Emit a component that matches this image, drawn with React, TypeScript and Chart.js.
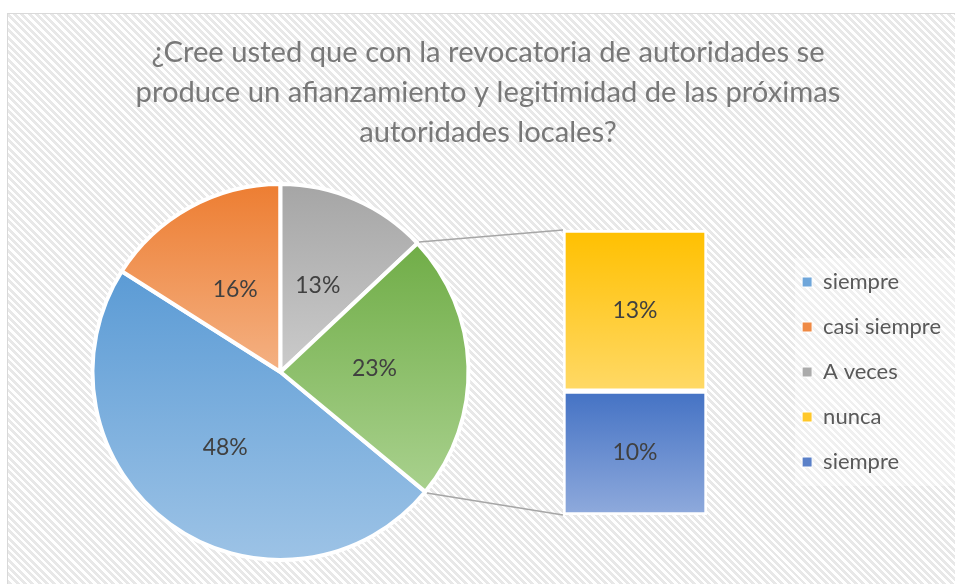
import { useEffect, useRef } from "react";
import { Chart, registerables } from "chart.js";

Chart.register(...registerables);

// ---- data ----
const titleLines = [
  "¿Cree usted que con la revocatoria de autoridades se",
  "produce un afianzamiento y legitimidad de las próximas",
  "autoridades locales?",
];
const pieLabels = ["siempre", "casi siempre", "A veces"];
const pieValues = [48, 16, 13];
const barLabels = ["nunca", "siempre"]; // top to bottom in the secondary bar
const barValues = [13, 10];
const otherLabel = "Otros";

// ---- styles ----
const pieColors = [
  ["#5b9bd5", "#9dc3e6"],
  ["#ed7d31", "#f4b183"],
  ["#a5a5a5", "#cbcbcb"],
  ["#70ad47", "#a9d18e"],
];
const barColors = [
  ["#ffc000", "#ffd966"],
  ["#4472c4", "#8faadc"],
];
const legendColors = ["#6fa6da", "#ef8a45", "#ababab", "#ffc82a", "#5a80c8"];

const W = 955;
const H = 584;
const FONT = "Lato, 'Open Sans', sans-serif";
const PIE_BOX = { left: 90, top: 182, right: 471, bottom: 562 };
const BAR_BOX = { left: 553, top: 220, width: 164, height: 305 };
const LEGEND_BG = { x: 795, y: 258, w: 160, h: 228 };

const otherValue = barValues.reduce((a, b) => a + b, 0);
const pieData = [...pieValues, otherValue];
const pieTotal = pieData.reduce((a, b) => a + b, 0);
// first slice placed so that "A veces" starts at 12 o'clock
const rotationDeg = 360 - (360 * (pieValues[0] + pieValues[1])) / pieTotal;
const stackIdx = barValues.map((_, i) => i).reverse(); // bottom dataset first

function sliceGradient(chart: any, index: number) {
  const area = chart.chartArea;
  if (!area) return pieColors[index][0];
  let before = 0;
  for (let k = 0; k < index; k++) before += pieData[k];
  const a0 = ((rotationDeg - 90) * Math.PI) / 180 + (2 * Math.PI * before) / pieTotal;
  const a1 = a0 + (2 * Math.PI * pieData[index]) / pieTotal;
  const cy = (area.top + area.bottom) / 2;
  const r = Math.min(area.right - area.left, area.bottom - area.top) / 2;
  const ys = [cy, cy + r * Math.sin(a0), cy + r * Math.sin(a1)];
  for (const ext of [-Math.PI / 2, Math.PI / 2]) {
    for (let k = -2; k <= 3; k++) {
      const a = ext + 2 * Math.PI * k;
      if (a >= a0 && a <= a1) ys.push(cy + r * Math.sin(a));
    }
  }
  const g = chart.ctx.createLinearGradient(0, Math.min(...ys), 0, Math.max(...ys));
  g.addColorStop(0, pieColors[index][0]);
  g.addColorStop(1, pieColors[index][1]);
  return g;
}

function barGradient(ctx: any) {
  const { chart, datasetIndex } = ctx;
  const i = stackIdx[datasetIndex];
  const y = chart.scales && chart.scales.y;
  if (!chart.chartArea || !y) return barColors[i][0];
  let below = 0;
  for (let k = 0; k < datasetIndex; k++) below += barValues[stackIdx[k]];
  const top = y.getPixelForValue(below + barValues[i]);
  const bottom = y.getPixelForValue(below);
  const g = chart.ctx.createLinearGradient(0, top, 0, bottom);
  g.addColorStop(0, barColors[i][0]);
  g.addColorStop(1, barColors[i][1]);
  return g;
}

const pieAreaPlugin = {
  id: "pieArea",
  afterLayout(chart: any) {
    chart.chartArea = {
      left: PIE_BOX.left,
      top: PIE_BOX.top,
      right: PIE_BOX.right,
      bottom: PIE_BOX.bottom,
      width: PIE_BOX.right - PIE_BOX.left,
      height: PIE_BOX.bottom - PIE_BOX.top,
    };
  },
};

const legendBgPlugin = {
  id: "legendBg",
  beforeDraw(chart: any) {
    const c = chart.ctx;
    c.save();
    c.fillStyle = "rgba(255,255,255,0.35)";
    c.fillRect(LEGEND_BG.x, LEGEND_BG.y, LEGEND_BG.w, LEGEND_BG.h);
    c.restore();
  },
};

const pieLabelPlugin = {
  id: "pieLabels",
  afterDatasetsDraw(chart: any) {
    const c = chart.ctx;
    const meta = chart.getDatasetMeta(0);
    c.save();
    c.font = `23px ${FONT}`;
    c.fillStyle = "#404040";
    c.textAlign = "center";
    c.textBaseline = "middle";
    meta.data.forEach((arc: any, i: number) => {
      const p = arc.getCenterPoint();
      const pct = Math.round((pieData[i] / pieTotal) * 100);
      c.fillText(`${pct}%`, p.x, p.y);
    });
    c.restore();
  },
};

function makeConnectorPlugin(bar: any) {
  return {
    id: "connectors",
    afterDatasetsDraw(chart: any) {
      const arc: any = chart.getDatasetMeta(0).data[3];
      const topBar: any = bar.getDatasetMeta(stackIdx.length - 1).data[0];
      const botBar: any = bar.getDatasetMeta(0).data[0];
      if (!arc || !topBar || !botBar) return;
      const R = arc.outerRadius + 2;
      const leftX = BAR_BOX.left + topBar.x - topBar.width / 2;
      const topY = BAR_BOX.top + topBar.y;
      const botY = BAR_BOX.top + botBar.base;
      const c = chart.ctx;
      c.save();
      c.strokeStyle = "#a6a6a6";
      c.lineWidth = 1.5;
      c.beginPath();
      c.moveTo(arc.x + R * Math.cos(arc.startAngle), arc.y + R * Math.sin(arc.startAngle));
      c.lineTo(leftX, topY);
      c.moveTo(arc.x + R * Math.cos(arc.endAngle), arc.y + R * Math.sin(arc.endAngle));
      c.lineTo(leftX, botY);
      c.stroke();
      c.restore();
    },
  };
}

const barLabelPlugin = {
  id: "barLabels",
  afterDatasetsDraw(chart: any) {
    const c = chart.ctx;
    c.save();
    c.font = `23px ${FONT}`;
    c.fillStyle = "#404040";
    c.textAlign = "center";
    c.textBaseline = "middle";
    chart.data.datasets.forEach((_: any, d: number) => {
      const el: any = chart.getDatasetMeta(d).data[0];
      if (!el) return;
      const p = el.getCenterPoint();
      const v = barValues[stackIdx[d]];
      const pct = Math.round((v / pieTotal) * 100);
      c.fillText(`${pct}%`, p.x, p.y);
    });
    c.restore();
  },
};

export default function App() {
  const pieRef = useRef<HTMLCanvasElement>(null);
  const barRef = useRef<HTMLCanvasElement>(null);

  useEffect(() => {
    const bar = new Chart(barRef.current as HTMLCanvasElement, {
      type: "bar",
      data: {
        labels: [otherLabel],
        datasets: stackIdx.map((i) => ({
          label: barLabels[i],
          data: [barValues[i]],
          backgroundColor: barGradient,
          borderColor: "#ffffff",
          borderWidth: 3,
          borderSkipped: false,
          barPercentage: 1,
          categoryPercentage: 1,
        })),
      },
      options: {
        animation: false,
        responsive: false,
        maintainAspectRatio: false,
        events: [],
        layout: { padding: 10 },
        plugins: {
          legend: { display: false },
          title: { display: false },
          tooltip: { enabled: false },
        },
        scales: {
          x: { stacked: true, display: false },
          y: { stacked: true, display: false, min: 0, max: otherValue },
        },
      } as any,
      plugins: [barLabelPlugin],
    });

    const legendLabels = [...pieLabels, ...barLabels];
    const pie = new Chart(pieRef.current as HTMLCanvasElement, {
      type: "pie",
      data: {
        labels: [...pieLabels, otherLabel],
        datasets: [
          {
            data: pieData,
            backgroundColor: (ctx: any) => sliceGradient(ctx.chart, ctx.dataIndex),
            borderColor: "#ffffff",
            borderWidth: 4,
            hoverOffset: 0,
            rotation: rotationDeg,
          } as any,
        ],
      },
      options: {
        animation: false,
        responsive: false,
        maintainAspectRatio: false,
        events: [],
        rotation: rotationDeg,
        layout: { padding: { left: 25, right: 4, top: 13, bottom: 3 } },
        plugins: {
          title: {
            display: true,
            text: titleLines,
            color: "#787878",
            font: { family: FONT, size: 29.2, weight: "normal", lineHeight: "40px" },
            padding: { top: 20, bottom: 10 },
          },
          legend: {
            display: true,
            position: "right",
            fullSize: false,
            onClick: () => {},
            labels: {
              boxWidth: 10,
              boxHeight: 10,
              padding: 23,
              color: "#595959",
              font: { family: FONT, size: 22 },
              generateLabels: () =>
                legendLabels.map((text, i) => ({
                  text,
                  fillStyle: legendColors[i],
                  strokeStyle: "#ffffff",
                  lineWidth: 1,
                  hidden: false,
                  index: i,
                  fontColor: "#595959",
                })),
            },
          },
          tooltip: { enabled: false },
        },
      } as any,
      plugins: [pieAreaPlugin, legendBgPlugin, makeConnectorPlugin(bar), pieLabelPlugin],
    });

    return () => {
      pie.destroy();
      bar.destroy();
    };
  }, []);

  return (
    <div
      style={{
        position: "absolute",
        left: 0,
        top: 0,
        width: W,
        height: H,
        overflow: "hidden",
        background: "#ffffff",
      }}
    >
      <div
        style={{
          position: "absolute",
          left: 7,
          top: 13,
          width: W + 20,
          height: H + 20,
          boxSizing: "border-box",
          border: "1.5px solid #d9d9d9",
          backgroundColor: "#ffffff",
          backgroundImage:
            "repeating-linear-gradient(45deg, #ffffff 0px, #ffffff 2.4px, #e8e8e8 2.4px, #e8e8e8 5.2px)",
        }}
      />
      <canvas
        ref={pieRef}
        width={W}
        height={H}
        style={{ position: "absolute", left: 0, top: 0 }}
      />
      <canvas
        ref={barRef}
        width={BAR_BOX.width}
        height={BAR_BOX.height}
        style={{ position: "absolute", left: BAR_BOX.left, top: BAR_BOX.top }}
      />
    </div>
  );
}
